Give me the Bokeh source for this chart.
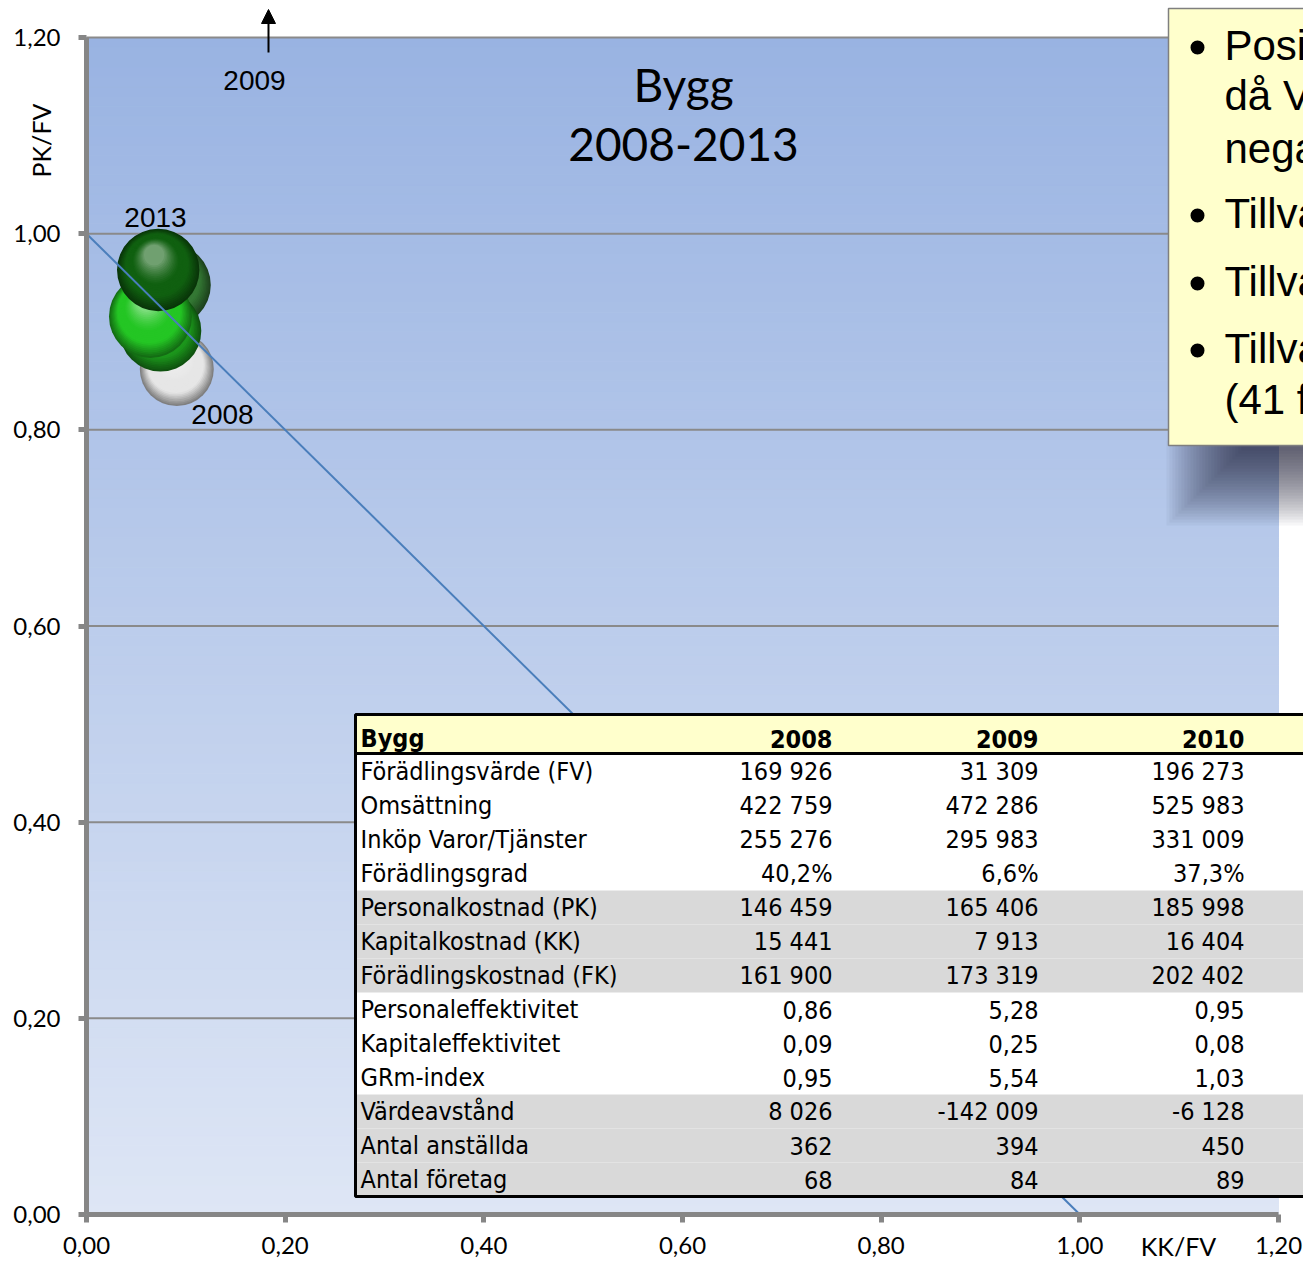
import numpy as np
from bokeh.plotting import figure
from bokeh.models import FixedTicker, Label, Arrow, NormalHead
from bokeh.core.properties import value
from bokeh.embed import file_html
from bokeh.resources import INLINE

# ---------------- data ----------------
years = ["2008", "2009", "2010", "2011", "2012", "2013"]
kk_fv = [0.0909, 0.2527, 0.0836, 0.0745, 0.0644, 0.0722]     # x: Kapitalkostnad / FV
pk_fv = [0.8619, 5.28, 0.9477, 0.901, 0.9156, 0.963]         # y: Personalkostnad / FV
employees = [362, 394, 450, 440, 455, 449]                   # bubble size

iso_x = [0.0, 1.0]
iso_y = [1.0, 0.0]

tick_vals = [0.0, 0.2, 0.4, 0.6, 0.8, 1.0, 1.2]
tick_labels = ["0,00", "0,20", "0,40", "0,60", "0,80", "1,00", "1,20"]

table_title = "Bygg"
table_years = ["2008", "2009", "2010"]
row_labels = ["Förädlingsvärde (FV)", "Omsättning", "Inköp Varor/Tjänster", "Förädlingsgrad",
              "Personalkostnad (PK)", "Kapitalkostnad (KK)", "Förädlingskostnad (FK)",
              "Personaleffektivitet", "Kapitaleffektivitet", "GRm-index",
              "Värdeavstånd", "Antal anställda", "Antal företag"]
col_2008 = ["169 926", "422 759", "255 276", "40,2%", "146 459", "15 441", "161 900",
            "0,86", "0,09", "0,95", "8 026", "362", "68"]
col_2009 = ["31 309", "472 286", "295 983", "6,6%", "165 406", "7 913", "173 319",
            "5,28", "0,25", "5,54", "-142 009", "394", "84"]
col_2010 = ["196 273", "525 983", "331 009", "37,3%", "185 998", "16 404", "202 402",
            "0,95", "0,08", "1,03", "-6 128", "450", "89"]
shaded_rows = [4, 5, 6, 10, 11, 12]

note_lines = ["Posi", "då V", "nega", "Tillva", "Tillva", "Tillva", "(41 f"]
note_bullets = [True, False, False, True, True, True, False]

# ---------------- layout helpers (canvas pixel -> data) ----------------
W, H = 1303, 1262
SX = (1278 - 86) / 1.2
SY = (1214 - 37) / 1.2


def dx(px):
    return (px - 86) / SX


def dy(py):
    return (1214 - py) / SY


p = figure(width=W, height=H, x_range=(dx(0), dx(W)), y_range=(dy(H), dy(0)),
           output_backend="svg", toolbar_location=None,
           min_border_left=0, min_border_right=0, min_border_top=0, min_border_bottom=0)
p.title.visible = False
p.background_fill_color = "white"
p.border_fill_color = "white"
p.outline_line_color = None

# background gradient of the plot area
n = 120
gy = np.linspace(0, 1.2, n + 1)
top_c = np.array([153, 179, 226])
bot_c = np.array([222, 230, 245])
gcols = []
for i in range(n):
    t = (gy[i] + gy[i + 1]) / 2 / 1.2
    c = bot_c + (top_c - bot_c) * t
    gcols.append("#%02x%02x%02x" % tuple(int(round(v)) for v in c))
p.quad(left=0, right=1.2, bottom=gy[:-1], top=gy[1:], fill_color=gcols,
       line_color=gcols, line_width=1, level="image")

# horizontal grid lines, only across the plot area
p.xgrid.visible = False
p.ygrid.visible = False
p.segment(x0=0, x1=1.2, y0=tick_vals[1:], y1=tick_vals[1:], line_color="#8a8a8a", line_width=2)

# axes
for ax in (p.xaxis[0], p.yaxis[0]):
    ax.fixed_location = 0
    ax.ticker = FixedTicker(ticks=tick_vals)
    ax.major_label_overrides = dict(zip(tick_vals, tick_labels))
    ax.bounds = (0, 1.2)
    ax.axis_line_color = "#868686"
    ax.axis_line_width = 5
    ax.major_tick_line_color = "#868686"
    ax.major_tick_line_width = 5
    ax.major_tick_in = 0
    ax.major_tick_out = 8
    ax.minor_tick_line_color = None
    ax.major_label_text_font = "Lato"
    ax.major_label_text_font_size = "24px"
    ax.major_label_text_color = "black"
p.xaxis[0].major_label_standoff = 14
p.yaxis[0].major_label_standoff = 18

# ---------------- bubbles (3D-ish spheres) ----------------
sphere_colors = {"2008": (230, 230, 230), "2009": (200, 200, 200), "2010": (52, 120, 52),
                 "2011": (28, 150, 28), "2012": (36, 198, 36), "2013": (16, 96, 16)}


def sphere(cx, cy, r_px, base):
    base = np.array(base, float)
    dark = base * 0.55
    light = base + (255 - base) * 0.4
    N = 26
    xs, ys, ss, cs = [], [], [], []
    for k in range(N):
        t = k / (N - 1)
        size = 2 * r_px * (1 - 0.75 * t)
        ox = -0.10 * r_px * t
        oy = 0.36 * r_px * t
        if t < 0.3:
            c = dark + (base - dark) * (t / 0.3)
        elif t < 0.55:
            c = base
        else:
            c = base + (light - base) * ((t - 0.55) / 0.45) ** 1.4
        c = np.clip(c, 0, 255)
        xs.append(cx + ox / SX)
        ys.append(cy + oy / SY)
        ss.append(size)
        cs.append("#%02x%02x%02x" % tuple(int(round(v)) for v in c))
    p.scatter(x=xs, y=ys, size=ss, fill_color=cs, line_color=None, marker="circle")


for yr, xv, yv, emp in zip(years, kk_fv, pk_fv, employees):
    if yv > 1.2:
        continue  # 2009 lies off the chart (shown by the arrow)
    sphere(xv, yv, 37 * np.sqrt(emp / 362.0), sphere_colors[yr])

# diagonal reference line
p.line(iso_x, iso_y, line_color="#4a7ebb", line_width=2)

# bubble labels
lab_font = value("Liberation Sans")
p.text(x=[dx(155)], y=[dy(217)], text=[years[5]], text_font=lab_font, text_font_size="28px",
       text_align="center", text_baseline="middle", text_color="black")
p.text(x=[dx(222)], y=[dy(414)], text=[years[0]], text_font=lab_font, text_font_size="28px",
       text_align="center", text_baseline="middle", text_color="black")
p.text(x=[dx(254)], y=[dy(80)], text=[years[1]], text_font=lab_font, text_font_size="28px",
       text_align="center", text_baseline="middle", text_color="black")
p.add_layout(Arrow(x_start=dx(268), y_start=dy(52), x_end=dx(268), y_end=dy(9),
                   line_color="black", line_width=2,
                   end=NormalHead(size=14, fill_color="black", line_color="black")))

# title
tfont = value("Lato")
p.text(x=[dx(683)], y=[dy(84)], text=["Bygg"], text_font=tfont, text_font_size="46px",
       text_align="center", text_baseline="middle", text_color="black")
p.text(x=[dx(683)], y=[dy(144)], text=["2008-2013"], text_font=tfont, text_font_size="46px",
       text_align="center", text_baseline="middle", text_color="black")

# axis titles
p.add_layout(Label(x=dx(40), y=dy(140), text="PK/FV", angle=np.pi / 2, text_font="Lato",
                   text_font_size="25px", text_align="center", text_baseline="middle",
                   text_color="black"))
p.add_layout(Label(x=dx(1178), y=dy(1245), text="KK/FV", text_font="Lato",
                   text_font_size="25px", text_align="center", text_baseline="middle",
                   text_color="black"))

# ---------------- data table ----------------
tl, tr = dx(355), dx(1450)
ttop, tbot = dy(714), dy(1196)
row_top = [754 + 34 * i for i in range(len(row_labels))]
p.quad(left=tl, right=tr, top=ttop, bottom=tbot, fill_color="white", line_color=None)
p.quad(left=tl, right=tr, top=ttop, bottom=dy(753), fill_color="#ffffcc", line_color=None)
p.quad(left=tl, right=tr, top=[dy(row_top[i]) for i in shaded_rows],
       bottom=[dy(row_top[i] + 34) for i in shaded_rows], fill_color="#d9d9d9", line_color=None)
p.segment(x0=tl, y0=dy(753), x1=tr, y1=dy(753), line_color="black", line_width=3)
p.quad(left=tl, right=tr, top=ttop, bottom=tbot, fill_color=None, line_color="black", line_width=3)

tab_font = value("DejaVu Sans Condensed")
hdr_y = dy(738)
p.text(x=[dx(360)], y=[hdr_y], text=[table_title], text_font=tab_font, text_font_style="bold",
       text_font_size="25px", text_align="left", text_baseline="middle", text_color="black")
col_right = [832, 1038, 1244]
p.text(x=[dx(c) for c in col_right], y=[hdr_y] * 3, text=table_years, text_font=tab_font,
       text_font_style="bold", text_font_size="25px", text_align="right",
       text_baseline="middle", text_color="black")
row_y = [dy(rt + 17) for rt in row_top]
p.text(x=[dx(360)] * len(row_labels), y=row_y, text=row_labels, text_font=tab_font,
       text_font_size="25px", text_align="left", text_baseline="middle", text_color="black")
for c, col in zip(col_right, [col_2008, col_2009, col_2010]):
    p.text(x=[dx(c)] * len(col), y=row_y, text=col, text_font=tab_font,
           text_font_size="25px", text_align="right", text_baseline="middle", text_color="black")

# ---------------- note box (top right) ----------------
bl, bt, bb = dx(1168), dy(8), dy(445)
for i in range(26):
    p.quad(left=dx(1166 + 3 * i), right=dx(1450), top=dy(440), bottom=dy(445 + 80 - 3 * i),
           fill_color="#1a2030", fill_alpha=0.04, line_color=None)
p.quad(left=bl, right=dx(1450), top=bt, bottom=bb, fill_color="#ffffcc",
       line_color="#7f7f7f", line_width=1.5)
note_y = [45, 95, 148, 213, 281, 348, 399]
bx = [dx(1197) for b in note_bullets if b]
by = [dy(yy + 2) for yy, b in zip(note_y, note_bullets) if b]
p.scatter(x=bx, y=by, size=14, fill_color="black", line_color=None, marker="circle")
p.text(x=[dx(1224)] * len(note_lines), y=[dy(yy) for yy in note_y], text=note_lines,
       text_font=value("Liberation Sans"), text_font_size="42px", text_align="left",
       text_baseline="middle", text_color="black")

open("out.html", "w").write(file_html(p, INLINE))
